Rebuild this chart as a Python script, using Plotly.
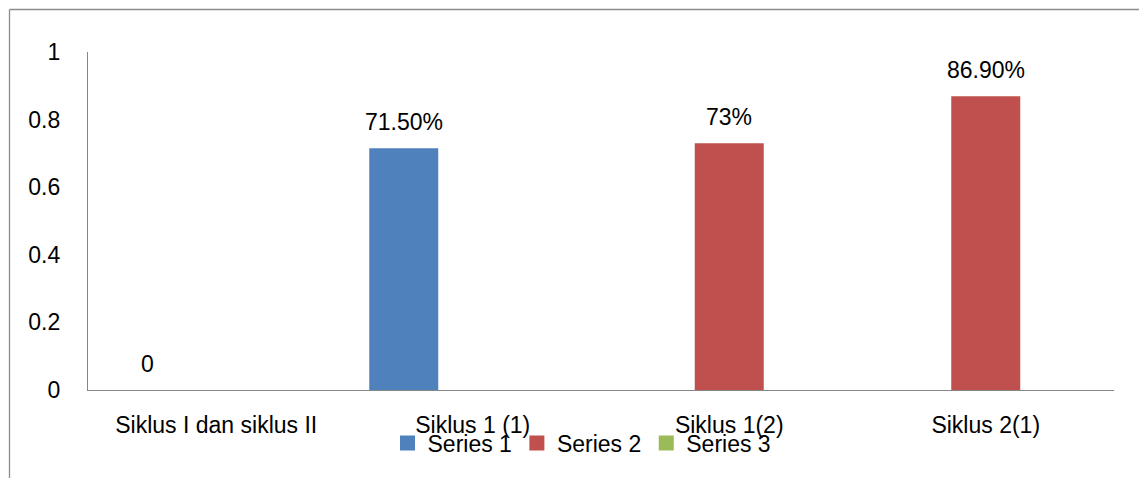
import plotly.graph_objects as go

# Categories and series values
categories = ["Siklus I dan siklus II", "Siklus 1 (1)", "Siklus 1(2)", "Siklus 2(1)"]
series_names = ["Series 1", "Series 2", "Series 3"]
series1 = [0, 0.715, None, None]
series2 = [None, None, 0.73, 0.869]
series3 = [None, None, None, None]
labels1 = ["0", "71.50%", "", ""]
labels2 = ["", "", "73%", "86.90%"]
labels3 = ["", "", "", ""]
y_ticks = [0, 0.2, 0.4, 0.6, 0.8, 1]
y_tick_text = ["0", "0.2", "0.4", "0.6", "0.8", "1"]

colors = ["#4F81BD", "#C0504D", "#9BBB59"]
FONT = "Liberation Sans, Arial, sans-serif"
FS = 23

W, H = 1139, 478
M_L, M_R, M_T, M_B = 88, 25, 52, 88
BARGAP = 0.193

plot_w = W - M_L - M_R
plot_h = H - M_T - M_B
cat_w = plot_w / len(categories)
bar_w = cat_w * (1 - BARGAP) / len(series_names)

fig = go.Figure()
all_series = [series1, series2, series3]
all_labels = [labels1, labels2, labels3]
for name, vals, col in zip(series_names, all_series, colors):
    fig.add_trace(go.Bar(
        name=name, x=categories, y=vals, legendgroup=name, showlegend=False,
        marker=dict(color=col, line=dict(width=0)),
    ))

# Legend keys drawn as larger square swatches
for name, col in zip(series_names, colors):
    fig.add_trace(go.Scatter(
        name=name, x=[None], y=[None], mode="markers", legendgroup=name,
        marker=dict(symbol="square", size=15, color=col, line=dict(width=0)),
        hoverinfo="skip",
    ))

# Data labels above each bar, centred on its slot in the group
annotations = []
n = len(series_names)
for i, (vals, labs) in enumerate(zip(all_series, all_labels)):
    shift = (i - (n - 1) / 2) * bar_w
    for cat, v, lab in zip(categories, vals, labs):
        if v is None or lab == "":
            continue
        annotations.append(dict(
            x=cat, y=v, xref="x", yref="y", text=lab, showarrow=False,
            xshift=shift, yshift=26, yanchor="middle", xanchor="center",
            font=dict(family=FONT, size=FS, color="#000000"),
        ))

# Chart-area frame (left and top edges are visible)
px_x = lambda p: (p - M_L) / plot_w
px_y = lambda p: (H - M_B - p) / plot_h
shapes = [
    dict(type="line", xref="paper", yref="paper",
         x0=px_x(9.5), x1=px_x(9.5), y0=px_y(9.5), y1=px_y(H + 5),
         line=dict(color="#8C8C8C", width=1.3)),
    dict(type="line", xref="paper", yref="paper",
         x0=px_x(9.5), x1=px_x(W + 5), y0=px_y(9.5), y1=px_y(9.5),
         line=dict(color="#8C8C8C", width=1.3)),
]

fig.update_layout(
    width=W, height=H,
    margin=dict(l=M_L, r=M_R, t=M_T, b=M_B, pad=0),
    paper_bgcolor="#FFFFFF", plot_bgcolor="#FFFFFF",
    barmode="group", bargap=BARGAP, bargroupgap=0,
    font=dict(family=FONT, size=FS, color="#000000"),
    showlegend=True,
    legend=dict(orientation="h", x=px_x(582), xanchor="center",
                y=px_y(443), yanchor="middle",
                font=dict(family=FONT, size=FS, color="#000000"),
                bgcolor="rgba(0,0,0,0)", itemclick=False),
    annotations=annotations,
    shapes=shapes,
)
fig.update_xaxes(showline=True, linecolor="#868686", linewidth=1.3,
                 showgrid=False, zeroline=False, ticks="",
                 ticklabelstandoff=14,
                 tickfont=dict(family=FONT, size=FS, color="#000000"))
fig.update_yaxes(range=[0, 1], tickvals=y_ticks, ticktext=y_tick_text,
                 showline=True, linecolor="#868686", linewidth=1.3,
                 showgrid=False, zeroline=False, ticks="",
                 ticklabelstandoff=22,
                 tickfont=dict(family=FONT, size=FS, color="#000000"))

fig.write_html("out.html")
